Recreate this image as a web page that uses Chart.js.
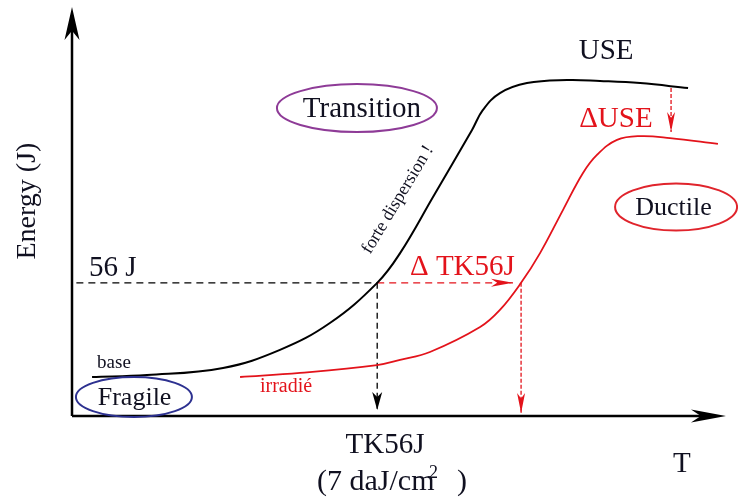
<!DOCTYPE html>
<html>
<head>
<meta charset="utf-8">
<script src="https://cdn.jsdelivr.net/npm/chart.js@4/dist/chart.umd.min.js"></script>
<style>
  html, body { margin: 0; padding: 0; background: #ffffff; }
  canvas { display: block; }
</style>
</head>
<body>
<canvas id="chart" width="738" height="500"></canvas>
<script>
// Charpy transition curves: temperature (°C) versus absorbed energy (J)
const baseT = [-150.8, -125.6, -90.7, -64.6, -41.7, -20.0, -9.5, 5.6, 23.5, 28.5, 36.3, 48.7, 67.1, 82.2, 100.6, 122.6];
const baseE = [16.4, 17.2, 20.2, 27.8, 39.1, 56.0, 68.5, 92.1, 120.3, 128.7, 135.8, 140.0, 141.3, 140.9, 140.0, 137.9];

const irrT = [-82.9, -55.4, -20.1, -9.5, 4.2, 27.2, 36.3, 46.0, 54.7, 65.2, 74.4, 80.8, 90.0, 100.6, 114.3, 136.3];
const irrE = [16.4, 18.1, 21.4, 23.6, 26.9, 37.4, 44.6, 56.0, 68.5, 86.6, 102.2, 109.8, 116.1, 117.7, 116.9, 114.4];

// 56 J criterion and the transition temperatures it gives
const refEnergy = 56;
const refStartT = -158;
const tk56Base = -20;
const tk56Irr = 46;
const shiftArrowEndT = 42.3;
const dropEndBase = 2.5;
const dropEndIrr = 1.3;

// upper-shelf energy drop
const useShiftT = 114.8;
const useBase = 137.9;
const useArrowEnd = 119.4;

// axis extents
const tRange = [-160, 140];
const eRange = [0, 172];

const pts = (xs, ys) => xs.map((x, i) => ({ x, y: ys[i] }));

const RED = '#e3131b';
const serif = '"Liberation Serif", "Times New Roman", serif';

function stealth(ctx, x0, y0, x1, y1, len, half, color) {
  const a = Math.atan2(y1 - y0, x1 - x0);
  ctx.save();
  ctx.translate(x1, y1);
  ctx.rotate(a);
  ctx.beginPath();
  ctx.moveTo(0, 0);
  ctx.lineTo(-len, -half);
  ctx.lineTo(-len * 0.72, 0);
  ctx.lineTo(-len, half);
  ctx.closePath();
  ctx.fillStyle = color;
  ctx.fill();
  ctx.restore();
}

// axes drawn as arrows
const arrowAxes = {
  id: 'arrowAxes',
  beforeDatasetsDraw(chart) {
    const { ctx, scales: { x, y } } = chart;
    const x0 = x.getPixelForValue(tRange[0]);
    const x1 = x.getPixelForValue(tRange[1]);
    const y0 = y.getPixelForValue(eRange[0]);
    const y1 = y.getPixelForValue(eRange[1]);
    ctx.save();
    ctx.strokeStyle = '#000';
    ctx.lineWidth = 2.5;
    ctx.beginPath();
    ctx.moveTo(x0, y0);
    ctx.lineTo(x1 - 20, y0);
    ctx.moveTo(x0, y0);
    ctx.lineTo(x0, y1 + 20);
    ctx.stroke();
    ctx.restore();
    stealth(ctx, x0, y0, x1, y0, 35, 6.5, '#000');
    stealth(ctx, x0, y0, x0, y1, 33, 7.5, '#000');
  }
};

// arrowheads at the ends of flagged datasets
const lineArrows = {
  id: 'lineArrows',
  afterDatasetsDraw(chart) {
    const { ctx } = chart;
    chart.data.datasets.forEach((ds, i) => {
      if (!ds.arrow) return;
      const meta = chart.getDatasetMeta(i);
      const n = meta.data.length;
      const a = meta.data[n - 2], b = meta.data[n - 1];
      stealth(ctx, a.x, a.y, b.x, b.y, ds.arrow.len, ds.arrow.half, ds.borderColor);
    });
  }
};

// region ellipses and text annotations
const ellipses = [
  { t: -29.3, e: 129.5, rx: 80, ry: 24, color: '#8e3b97' },
  { t: 117.1, e: 87.9, rx: 61, ry: 23.5, color: '#e0242c' },
  { t: -131.6, e: 8.0, rx: 58, ry: 20, color: '#2d3190' }
];

const labels = [
  { text: 'USE', t: 85, e: 150.1, size: 29, align: 'center', color: '#101020' },
  { text: '\u0394USE', t: 89.5, e: 121.5, size: 29, align: 'center', color: RED },
  { text: 'Transition', t: -27.0, e: 125.7, size: 29, align: 'center', color: '#101020' },
  { text: 'Ductile', t: 115.9, e: 84.5, size: 26, align: 'center', color: '#101020' },
  { text: 'Fragile', t: -131.3, e: 4.6, size: 26, align: 'center', color: '#101020' },
  { text: 'base', t: -148.5, e: 20.2, size: 19, align: 'left', color: '#101020' },
  { text: 'irradié', t: -73.8, e: 10.1, size: 20, align: 'left', color: RED },
  { text: '56 J', t: -152.2, e: 58.9, size: 29, align: 'left', color: '#101020' },
  { text: '\u0394 TK56J', t: -4.95, e: 59.3, size: 29, align: 'left', color: RED },
  { text: 'TK56J', t: -16.4, e: -15.6, size: 29, align: 'center', color: '#101020' },
  { text: '(7 daJ/cm', t: -47.6, e: -31.1, size: 30, align: 'left', color: '#101020' },
  { text: '2', t: 3.8, e: -26.1, size: 18, align: 'left', color: '#101020' },
  { text: ')', t: 16.6, e: -31.1, size: 30, align: 'left', color: '#101020' },
  { text: 'T', t: 115.7, e: -23.5, size: 29, align: 'left', color: '#101020' },
  { text: 'Energy (J)', t: -180.2, e: 90.4, size: 28, align: 'center', color: '#101020', rot: -90, middle: true },
  { text: 'forte dispersion !', t: -10.5, e: 91.0, size: 18, align: 'center', color: '#101020', rot: -59, middle: true }
];

const annotations = {
  id: 'annotations',
  afterDatasetsDraw(chart) {
    const { ctx, scales: { x, y } } = chart;
    ctx.save();
    ellipses.forEach(el => {
      ctx.beginPath();
      ctx.ellipse(x.getPixelForValue(el.t), y.getPixelForValue(el.e), el.rx, el.ry, 0, 0, Math.PI * 2);
      ctx.strokeStyle = el.color;
      ctx.lineWidth = 2;
      ctx.stroke();
    });
    labels.forEach(l => {
      ctx.save();
      ctx.translate(x.getPixelForValue(l.t), y.getPixelForValue(l.e));
      if (l.rot) ctx.rotate(l.rot * Math.PI / 180);
      ctx.font = `${l.size}px ${serif}`;
      ctx.fillStyle = l.color;
      ctx.textAlign = l.align;
      ctx.textBaseline = l.middle ? 'middle' : 'alphabetic';
      ctx.fillText(l.text, 0, 0);
      ctx.restore();
    });
    ctx.restore();
  }
};

const lineDefaults = { pointRadius: 0, pointHoverRadius: 0, fill: false, clip: false, tension: 0 };

new Chart(document.getElementById('chart'), {
  type: 'scatter',
  data: {
    datasets: [
      { ...lineDefaults, label: 'base', data: pts(baseT, baseE), showLine: true,
        borderColor: '#000', borderWidth: 2, tension: 0.4 },
      { ...lineDefaults, label: 'irradié', data: pts(irrT, irrE), showLine: true,
        borderColor: RED, borderWidth: 1.8, tension: 0.4 },
      { ...lineDefaults, label: '56 J', data: pts([refStartT, tk56Base], [refEnergy, refEnergy]), showLine: true,
        borderColor: '#000', borderWidth: 1.3, borderDash: [7, 5] },
      { ...lineDefaults, label: 'ΔTK56J', data: pts([tk56Base, shiftArrowEndT], [refEnergy, refEnergy]), showLine: true,
        borderColor: RED, borderWidth: 1.3, borderDash: [7, 5], arrow: { len: 22, half: 4 } },
      { ...lineDefaults, label: 'TK56J base', data: pts([tk56Base, tk56Base], [refEnergy, dropEndBase]), showLine: true,
        borderColor: '#000', borderWidth: 1.3, borderDash: [6, 4], arrow: { len: 18, half: 5 } },
      { ...lineDefaults, label: 'TK56J irradié', data: pts([tk56Irr, tk56Irr], [refEnergy, dropEndIrr]), showLine: true,
        borderColor: RED, borderWidth: 1.3, borderDash: [4, 2], arrow: { len: 20, half: 4 } },
      { ...lineDefaults, label: 'ΔUSE', data: pts([useShiftT, useShiftT], [useBase, useArrowEnd]), showLine: true,
        borderColor: RED, borderWidth: 1.3, borderDash: [4, 2], arrow: { len: 20, half: 4 } }
    ]
  },
  options: {
    responsive: false,
    animation: false,
    events: [],
    layout: { padding: { left: 72, right: 12, top: 7, bottom: 84 } },
    scales: {
      x: { type: 'linear', min: tRange[0], max: tRange[1], display: false },
      y: { type: 'linear', min: eRange[0], max: eRange[1], display: false }
    },
    plugins: { legend: { display: false }, tooltip: { enabled: false } }
  },
  plugins: [arrowAxes, lineArrows, annotations]
});
</script>
</body>
</html>
